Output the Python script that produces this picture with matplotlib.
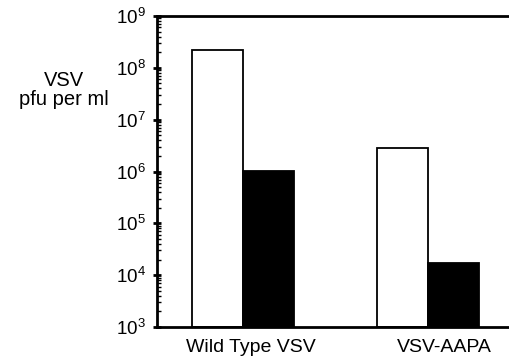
#bar chart of VSV titers, wild type vs AAPA mutant, log scale
import numpy as np
import matplotlib.pyplot as plt
from matplotlib.ticker import LogLocator, FixedLocator

plt.rcParams['font.family'] = ['Liberation Sans', 'DejaVu Sans']
plt.rcParams['mathtext.default'] = 'regular'

#data
groups = ['Wild Type VSV', 'VSV-AAPA']
open_bars = [2.2e8, 2.9e6]
filled_bars = [1.0e6, 1.6e4]
ytick_exp = [3, 4, 5, 6, 7, 8, 9]

fig = plt.figure(figsize=(5.1, 3.61), dpi=100)
ax = fig.add_axes([157/510, 1 - 327/361, 353/510, (327-16)/361])

x = np.arange(len(groups))
w = 0.275
ax.bar(x - w/2, open_bars, width=w, color='white', edgecolor='black', linewidth=1.3, bottom=1e3)
ax.bar(x + w/2, filled_bars, width=w, color='black', edgecolor='black', linewidth=1.3, bottom=1e3)

ax.set_yscale('log')
ax.set_ylim(1e3, 1e9)
ax.set_xlim(-0.464, 1.44)

ax.yaxis.set_major_locator(FixedLocator([10.0**e for e in ytick_exp]))
ax.set_yticklabels(['10$^{%d}$' % e for e in ytick_exp], fontsize=13.5)
ax.yaxis.set_minor_locator(LogLocator(base=10, subs=np.arange(2, 10)))
ax.yaxis.set_minor_formatter(plt.NullFormatter())
ax.tick_params(axis='y', which='major', direction='inout', length=6, width=2, pad=5)
ax.tick_params(axis='y', which='minor', direction='in', length=3, width=1)

#labels sit a little right of the group centres in the original
ax.set_xticks(x + np.array([0.045, 0.085]))
ax.set_xticklabels(groups, fontsize=14)
ax.tick_params(axis='x', length=0, pad=9)

for s in ['left', 'bottom', 'top']:
    ax.spines[s].set_linewidth(2)
ax.spines['right'].set_visible(False)

#axis title as one two-line text, set off to the left
fig.text(64/510, 1 - 90/361, 'VSV\npfu per ml', fontsize=14.5, ha='center', va='center',
         multialignment='center', linespacing=0.95)

fig.savefig('out.png', dpi=100)
